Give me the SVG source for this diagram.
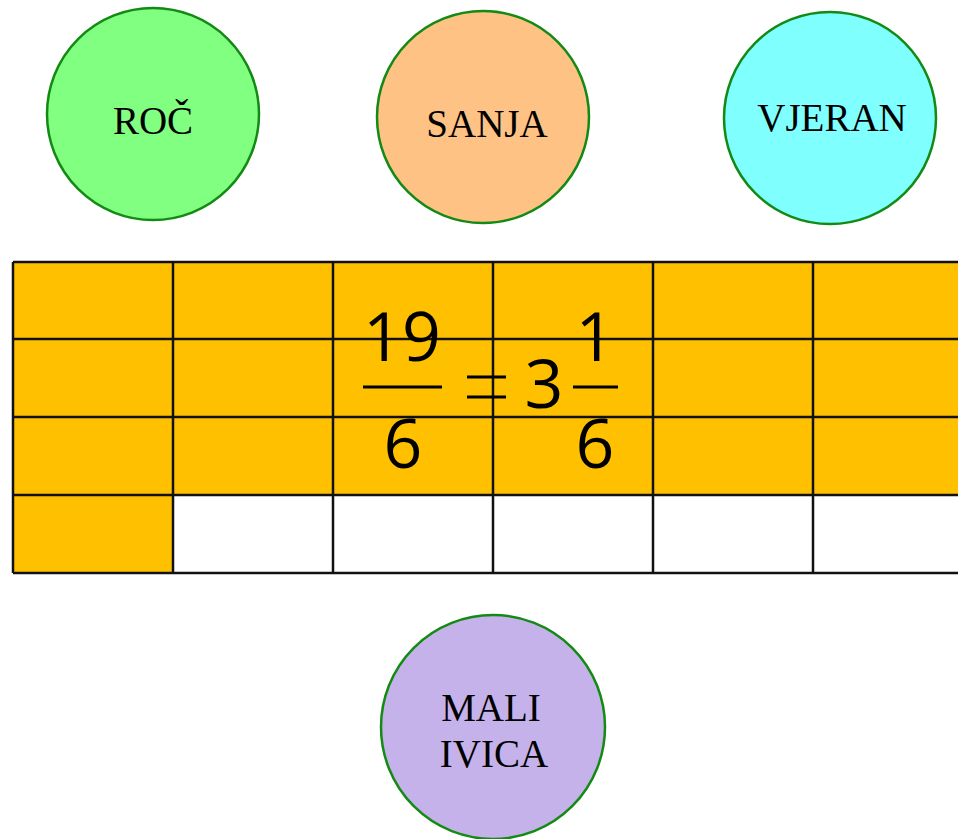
<svg xmlns="http://www.w3.org/2000/svg" width="958" height="839" viewBox="0 0 958 839">
  <style>
    .node circle { stroke: #138a13; stroke-width: 2.5; }
    .label { font-family: "Liberation Serif", "Times New Roman", serif; font-size: 39px; fill: #000; text-anchor: middle; }
    .cell { fill: #ffc000; }
    .grid line { stroke: #111; stroke-width: 2.5; }
    .math { font-family: "Open Sans", "DejaVu Sans", sans-serif; font-size: 68px; fill: #000; text-anchor: middle; }
    .bar { stroke: #000; stroke-width: 3; }
  </style>

  <rect width="958" height="839" fill="#fff"/>

  <!-- people -->
  <g id="roc" class="node">
    <circle cx="153" cy="114" r="106" fill="#80ff80"/>
    <text class="label" x="153" y="134">ROČ</text>
  </g>
  <g id="sanja" class="node">
    <circle cx="483" cy="117" r="106" fill="#ffc285"/>
    <text class="label" x="487" y="137">SANJA</text>
  </g>
  <g id="vjeran" class="node">
    <circle cx="830" cy="118" r="106" fill="#80ffff"/>
    <text class="label" x="832" y="131">VJERAN</text>
  </g>
  <g id="mali-ivica" class="node">
    <circle cx="493" cy="727" r="112" fill="#c5b2ea"/>
    <text class="label" x="491" y="721">MALI</text>
    <text class="label" x="494" y="767">IVICA</text>
  </g>

  <!-- shaded cells: 19 sixths -->
  <g id="grid">
    <rect class="cell" x="13" y="262" width="960" height="233"/>
    <rect class="cell" x="13" y="495" width="160" height="78"/>
    <g class="grid">
      <line x1="13" y1="262" x2="958" y2="262"/>
      <line x1="13" y1="339" x2="958" y2="339"/>
      <line x1="13" y1="417" x2="958" y2="417"/>
      <line x1="13" y1="495" x2="958" y2="495"/>
      <line x1="13" y1="573" x2="958" y2="573"/>
      <line x1="13" y1="262" x2="13" y2="573"/>
      <line x1="173" y1="262" x2="173" y2="573"/>
      <line x1="333" y1="262" x2="333" y2="573"/>
      <line x1="493" y1="262" x2="493" y2="573"/>
      <line x1="653" y1="262" x2="653" y2="573"/>
      <line x1="813" y1="262" x2="813" y2="573"/>
    </g>
  </g>

  <!-- 19/6 = 3 1/6 -->
  <g id="equation">
    <text class="math" x="402" y="361">19</text>
    <line class="bar" x1="363" y1="387" x2="442" y2="387"/>
    <text class="math" x="403" y="468">6</text>
    <line class="bar" x1="467" y1="377" x2="506" y2="377"/>
    <line class="bar" x1="467" y1="397" x2="506" y2="397"/>
    <text class="math" x="544" y="408">3</text>
    <text class="math" x="595" y="361">1</text>
    <line class="bar" x1="573" y1="387" x2="618" y2="387"/>
    <text class="math" x="595" y="468">6</text>
  </g>
</svg>
